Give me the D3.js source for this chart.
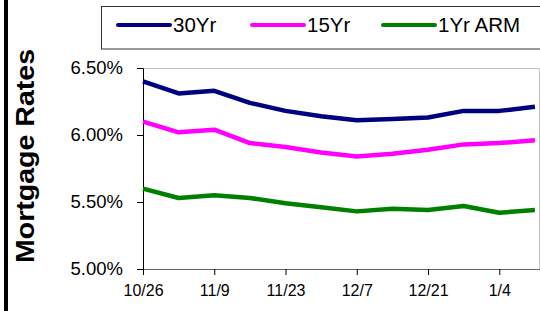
<!DOCTYPE html>
<html>
<head>
<meta charset="utf-8">
<script src="https://cdn.jsdelivr.net/npm/d3@7"></script>
<style>
body{margin:0;background:#fff;}
svg{display:block;font-family:Arial,"Liberation Sans",sans-serif;}
</style>
</head>
<body>
<script>
// weekly dates
var dates=["10/26/2007","11/2/2007","11/9/2007","11/16/2007","11/23/2007","11/30/2007",
"12/7/2007","12/14/2007","12/21/2007","12/28/2007","1/4/2008","1/11/2008"];
var rate30=[6.40,6.31,6.33,6.24,6.18,6.14,6.11,6.12,6.13,6.18,6.18,6.21];
var rate15=[6.10,6.02,6.04,5.94,5.91,5.87,5.84,5.86,5.89,5.93,5.94,5.96];
var rateArm=[5.60,5.53,5.55,5.53,5.49,5.46,5.43,5.45,5.44,5.47,5.42,5.44];
var seriesNames=["30Yr","15Yr","1Yr ARM"];
var seriesColors=["#000080","#ff00ff","#008000"];
var xTickLabels=["10/26","11/9","11/23","12/7","12/21","1/4"];
var yTicks=[5.0,5.5,6.0,6.5];

var parse=d3.utcParse("%m/%d/%Y");
var W=540,H=311;
var svg=d3.select("body").append("svg").attr("width",W).attr("height",H);

// black bar on the left edge
svg.append("rect").attr("x",4).attr("y",0).attr("width",4).attr("height",H).attr("fill","#000");

var x=d3.scaleUtc().domain([parse("10/26/2007"),parse("1/12/2008")]).range([143,540]);
var y=d3.scaleLinear().domain([5,6.5]).range([269,68]);

// plot frame top/right
svg.append("path")
	.attr("d","M143,"+(y(6.5)+0.5)+"H539.5V269")
	.attr("fill","none").attr("stroke","#c0c0c0").attr("stroke-width",1);

var yAxis=svg.append("g").attr("transform","translate(143,0)")
	.call(d3.axisLeft(y).tickValues(yTicks).tickSize(6).tickPadding(14)
	.tickFormat(function(d){return d.toFixed(2)+"%";}));
yAxis.select(".domain").attr("stroke","#000");
yAxis.selectAll("text").attr("font-size","18.5px").attr("fill","#000")
	.attr("font-family",'Arial,"Liberation Sans",sans-serif');

var xTickDates=[];
for(var i=0;i<xTickLabels.length;i++)xTickDates.push(parse(dates[i*2]));
var xAxis=svg.append("g").attr("transform","translate(0,269)")
	.call(d3.axisBottom(x).tickValues(xTickDates).tickSize(6).tickPadding(10)
	.tickFormat(function(d,i){return xTickLabels[i];}));
xAxis.select(".domain").attr("stroke","#666");
xAxis.selectAll("text").attr("font-size","16px").attr("fill","#000")
	.attr("font-family",'Arial,"Liberation Sans",sans-serif');

// y title
svg.append("text")
	.attr("transform","translate(34,156) rotate(-90)")
	.attr("text-anchor","middle")
	.attr("font-size","26px").attr("font-weight","bold")
	.attr("textLength",214).attr("lengthAdjust","spacingAndGlyphs")
	.text("Mortgage Rates");

var line=d3.line()
	.x(function(d){return x(d.date);})
	.y(function(d){return y(d.v);});

var allSeries=[rate30,rate15,rateArm];
allSeries.forEach(function(s,k){
	var pts=s.map(function(v,i){return {date:parse(dates[i]),v:v};});
	svg.append("path").datum(pts)
		.attr("d",line)
		.attr("fill","none")
		.attr("stroke",seriesColors[k])
		.attr("stroke-width",4.5)
		.attr("stroke-linejoin","round");
});

// legend
var lg=svg.append("g");
lg.append("rect").attr("x",101.5).attr("y",6.5).attr("width",460).attr("height",42.5)
	.attr("fill","#fff").attr("stroke","#333").attr("stroke-width",1);
var legX=[118,252,383];
seriesNames.forEach(function(n,k){
	lg.append("line").attr("x1",legX[k]).attr("x2",legX[k]+52).attr("y1",25).attr("y2",25)
		.attr("stroke",seriesColors[k]).attr("stroke-width",4).attr("stroke-linecap","round");
	lg.append("text").attr("x",legX[k]+55).attr("y",32).attr("font-size","20.5px").text(n);
});
</script>
</body>
</html>
